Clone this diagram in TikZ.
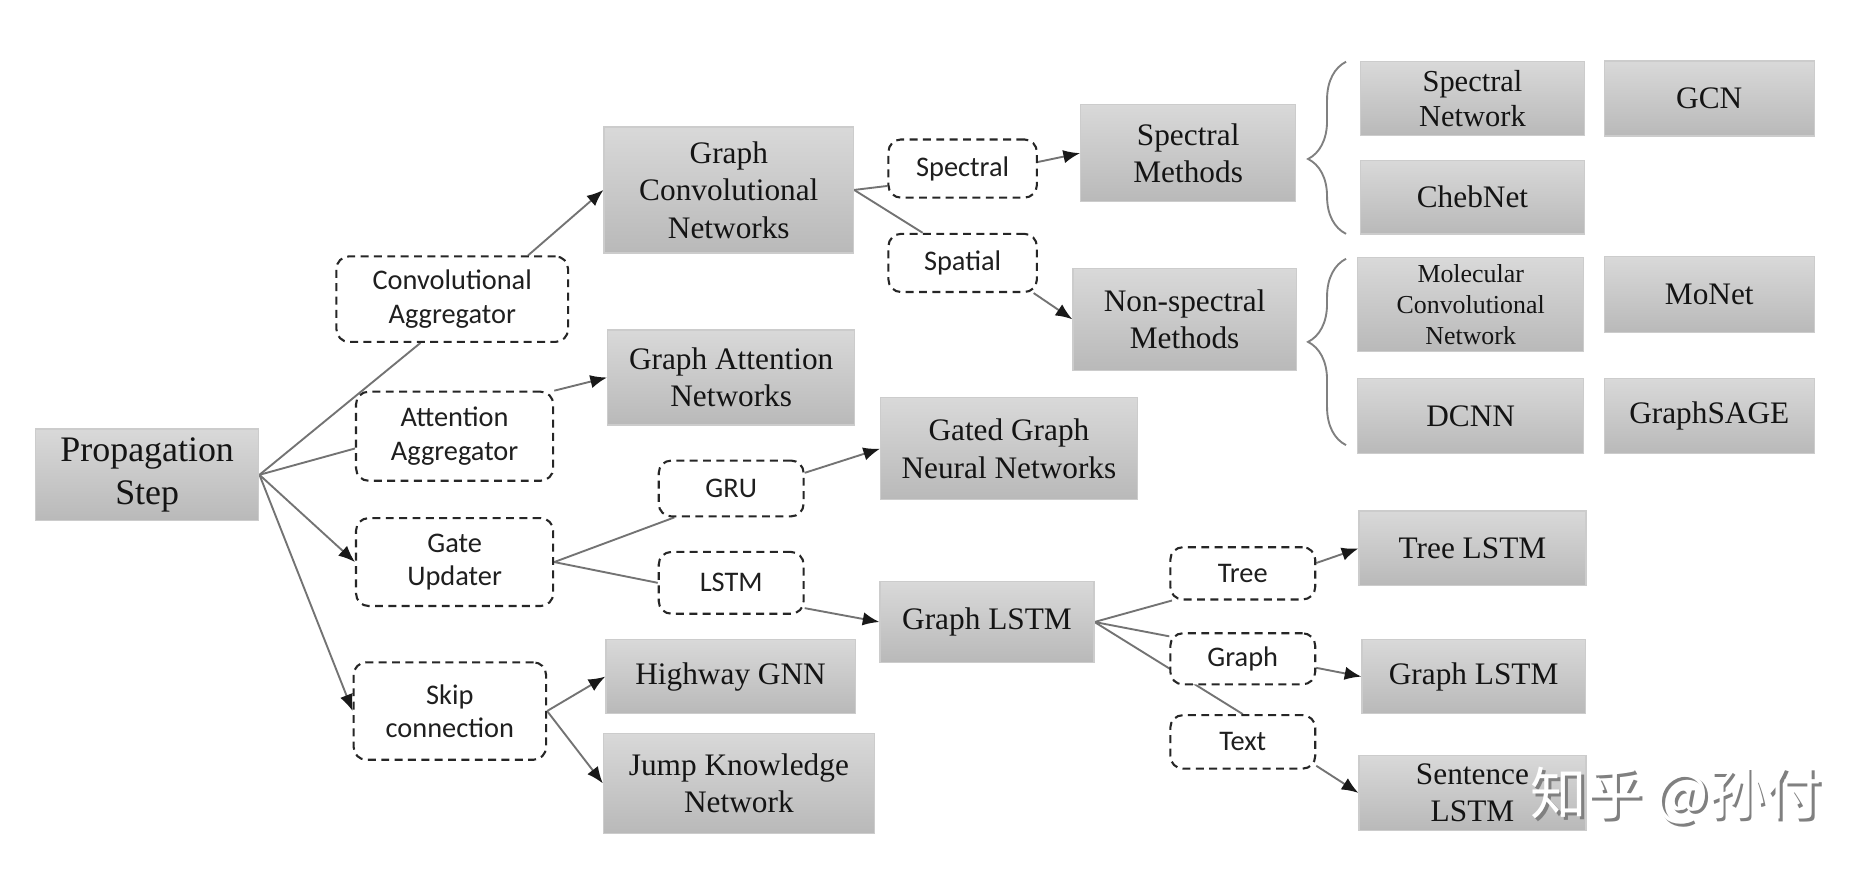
\documentclass[tikz,border=0pt]{standalone}
\usepackage{fontspec}
\setmainfont{Liberation Serif}
\newfontfamily\calibfont{Carlito}
\newfontfamily\cjkfont{Noto Sans CJK SC}
\usetikzlibrary{arrows.meta,backgrounds,decorations.pathreplacing}

\begin{document}
\begin{tikzpicture}[x=0.01cm,y=-0.01cm]
		\tikzset{method/.style = {shape=rectangle,draw=gray!40,line width=0.3pt,top color=gray!30,bottom color=gray!55,inner sep=0pt,align=center,text=black!92,font=\fontsize{7.5}{9}\selectfont}}
		\tikzset{choice/.style = {shape=rectangle,rounded corners=3pt,draw=black!85,fill=white,line width=0.5pt,dash pattern=on 1.9pt off 1.3pt,inner sep=0pt,align=center,text=black!88,font=\calibfont\fontsize{6.8}{8}\selectfont}}
		\tikzset{link/.style = {draw=black!55,line width=0.45pt}}
		\tikzset{arrlink/.style = {link,-{Latex[length=4pt,width=3.2pt,color=black!90]}}}
		\tikzset{bracket/.style = {draw=black!50,line width=0.45pt,decorate}}
		\useasboundingbox (0,0) rectangle (1567,738);
		% left part
		\node[method,font=\fontsize{8.6}{10.4}\selectfont,minimum width=1.88cm,minimum height=0.77cm] (prop) at (124,400) {Propagation\\Step};
		\node[choice,minimum width=1.95cm,minimum height=0.72cm] (conv) at (381,252) {Convolutional\\Aggregator};
		\node[choice,minimum width=1.66cm,minimum height=0.75cm] (att) at (383,367.5) {Attention\\Aggregator};
		\node[choice,minimum width=1.66cm,minimum height=0.74cm] (gate) at (383,473.5) {Gate\\Updater};
		\node[choice,minimum width=1.62cm,minimum height=0.82cm] (skip) at (379,599) {Skip\\connection};
		\node[method,minimum width=2.10cm,minimum height=1.06cm] (gcn) at (614,160) {Graph\\Convolutional\\Networks};
		\node[method,minimum width=2.08cm,minimum height=0.80cm] (gat) at (616,318) {Graph Attention\\Networks};
		\node[choice,minimum width=1.22cm,minimum height=0.47cm] (gru) at (616,411.5) {GRU};
		\node[choice,minimum width=1.22cm,minimum height=0.52cm] (lstm) at (616,491) {LSTM};
		\node[method,minimum width=2.16cm,minimum height=0.86cm] (ggnn) at (850,378) {Gated Graph\\Neural Networks};
		\node[method,minimum width=1.80cm,minimum height=0.68cm] (glstm) at (831.5,524) {Graph LSTM};
		\node[method,minimum width=2.10cm,minimum height=0.62cm] (hwy) at (615.5,570) {Highway GNN};
		\node[method,minimum width=2.28cm,minimum height=0.84cm] (jkn) at (622.5,660) {Jump Knowledge\\Network};
		% spectral / spatial
		\node[choice,minimum width=1.25cm,minimum height=0.49cm] (spec) at (811,142) {Spectral};
		\node[choice,minimum width=1.25cm,minimum height=0.49cm] (spat) at (811,221.5) {Spatial};
		\node[method,minimum width=1.81cm,minimum height=0.82cm] (specm) at (1001,129) {Spectral\\Methods};
		\node[method,minimum width=1.88cm,minimum height=0.86cm] (nonspecm) at (998,269) {Non-spectral\\Methods};
		\node[method,font=\fontsize{7.3}{8.6}\selectfont,minimum width=1.89cm,minimum height=0.62cm] (specnet) at (1240.5,83) {Spectral\\Network};
		\node[method,minimum width=1.77cm,minimum height=0.63cm] (gcnm) at (1440,83) {GCN};
		\node[method,minimum width=1.89cm,minimum height=0.62cm] (cheb) at (1240.5,166) {ChebNet};
		\node[method,font=\fontsize{6.2}{7.5}\selectfont,minimum width=1.90cm,minimum height=0.79cm] (mcn) at (1239,256.5) {Molecular\\Convolutional\\Network};
		\node[method,minimum width=1.77cm,minimum height=0.64cm] (monet) at (1440,248.3) {MoNet};
		\node[method,minimum width=1.90cm,minimum height=0.63cm] (dcnn) at (1239,350.5) {DCNN};
		\node[method,minimum width=1.77cm,minimum height=0.63cm] (sage) at (1440,350.5) {GraphSAGE};
		% lstm variants
		\node[choice,minimum width=1.22cm,minimum height=0.44cm] (tree) at (1047,483) {Tree};
		\node[choice,minimum width=1.22cm,minimum height=0.43cm] (graph) at (1047,555) {Graph};
		\node[choice,minimum width=1.22cm,minimum height=0.45cm] (txt) at (1047,625) {Text};
		\node[method,minimum width=1.91cm,minimum height=0.63cm] (treel) at (1240.5,462) {Tree LSTM};
		\node[method,minimum width=1.88cm,minimum height=0.62cm] (graphl) at (1241.5,570) {Graph LSTM};
		\node[method,minimum width=1.91cm,minimum height=0.63cm] (sentl) at (1240.5,668) {Sentence\\LSTM};
		% braces
		\draw[bracket,decoration={brace,amplitude=0.32cm,aspect=0.435}] (1134,197) -- (1134,52);
		\draw[bracket,decoration={brace,amplitude=0.32cm,aspect=0.554}] (1134,375) -- (1134,218);
		% watermark
		\node[text=black!50,font=\cjkfont\fontsize{13.5}{14}\selectfont] (wmshadow) at (1414.5,672.5) {知乎 @孙付};
		\node[text=white,font=\cjkfont\fontsize{13.5}{14}\selectfont] (wm) at (1412,670) {知乎 @孙付};
		\begin{scope}[on background layer]
			\fill[white] (0,0) rectangle (1567,738);
			\draw[link] (prop.east) -- (conv.234);
			\draw[arrlink] (conv.30) -- (gcn.west);
			\draw[link] (prop.east) -- (att.187);
			\draw[arrlink] (att.north east) -- (gat.west);
			\draw[arrlink] (prop.east) -- (gate.west);
			\draw[arrlink] (prop.east) -- (skip.west);
			\draw[link] (gate.east) -- (gru.207);
			\draw[link] (gate.east) -- (lstm.west);
			\draw[arrlink] (gru.12) -- (ggnn.west);
			\draw[arrlink] (lstm.-19) -- (glstm.west);
			\draw[arrlink] (skip.east) -- (hwy.west);
			\draw[arrlink] (skip.east) -- (jkn.west);
			\draw[link] (gcn.east) -- (spec.193);
			\draw[link] (gcn.east) -- (spat.143);
			\draw[arrlink] (spec.5) -- (specm.west);
			\draw[arrlink] (spat.-23) -- (nonspecm.west);
			\draw[link] (glstm.east) -- (tree.201);
			\draw[link] (glstm.east) -- (graph.163);
			\draw[link] (glstm.east) -- (txt.north);
			\draw[arrlink] (tree.8) -- (treel.west);
			\draw[arrlink] (graph.-7) -- (graphl.west);
			\draw[arrlink] (txt.-18) -- (sentl.west);
		\end{scope}
	\end{tikzpicture}
\end{document}
